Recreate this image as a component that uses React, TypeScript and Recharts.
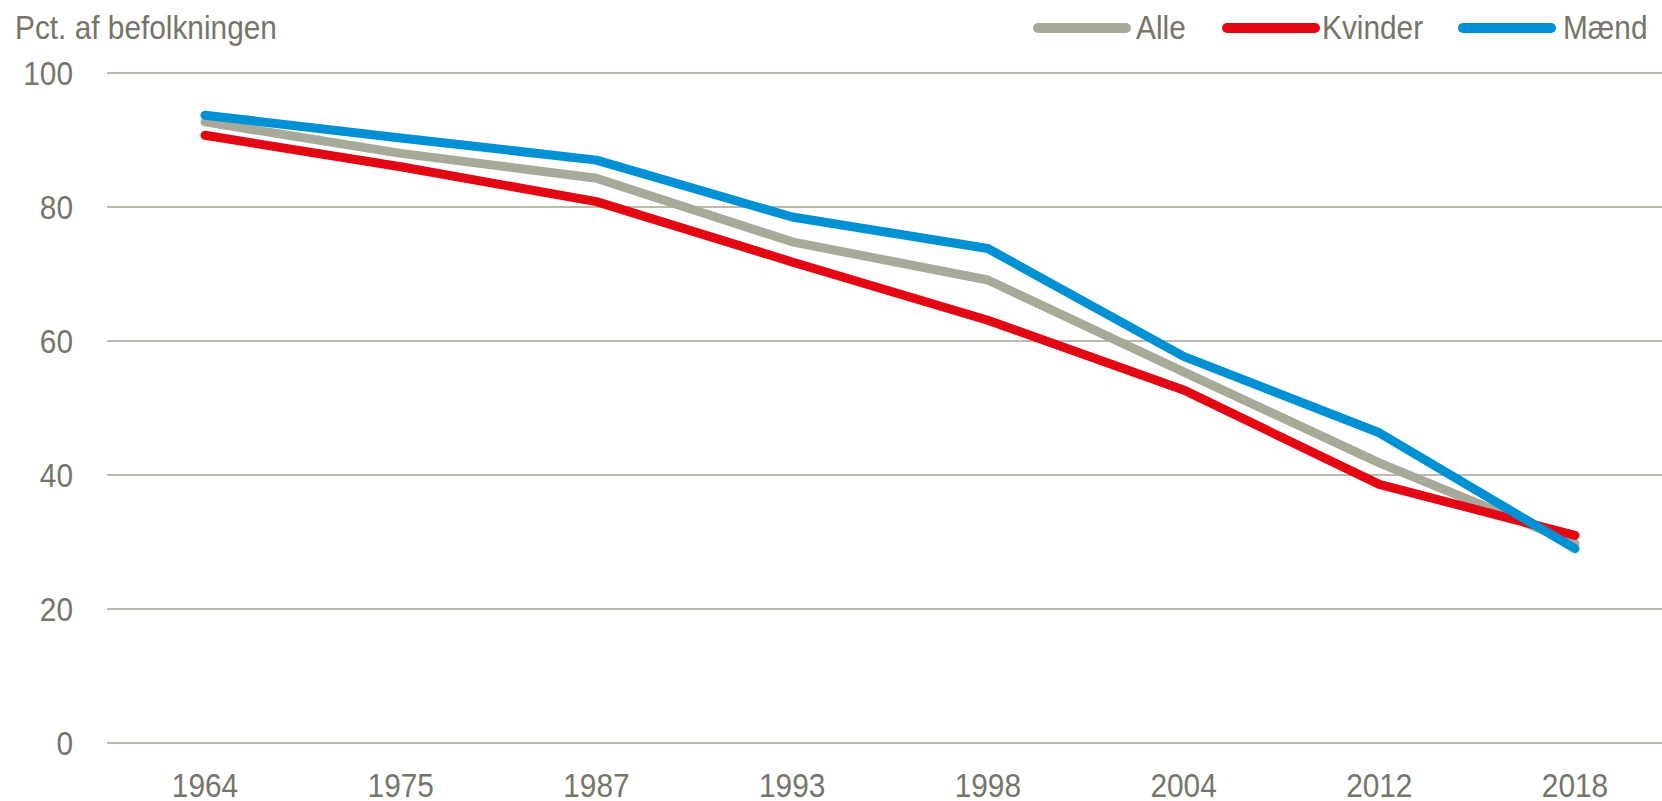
import { CartesianGrid, Line, LineChart, XAxis, YAxis } from 'recharts';

const years = ['1964', '1975', '1987', '1993', '1998', '2004', '2012', '2018'];
const alle = [92.7, 88.0, 84.3, 74.8, 69.1, 55.4, 41.8, 29.8];
const kvinder = [90.7, 86.0, 80.8, 71.8, 63.1, 52.7, 38.6, 31.0];
const maend = [93.7, 90.3, 87.0, 78.5, 73.8, 57.7, 46.3, 29.0];
const yTicks = [0, 20, 40, 60, 80, 100];

const series = [
  { key: 'alle', name: 'Alle', color: '#a9a99a' },
  { key: 'kvinder', name: 'Kvinder', color: '#e30613' },
  { key: 'maend', name: 'Mænd', color: '#0091d5' },
];

const data = years.map((year, i) => ({
  year,
  alle: alle[i],
  kvinder: kvinder[i],
  maend: maend[i],
}));

// no narrow font installed, so squeeze Liberation Sans horizontally
const FONT = '"Liberation Sans", Arial, sans-serif';
const FS = 33.5;
const SX = 0.89;
const TEXT = '#75756a';
const GRID = '#bcbaae';

// legend slot positions (line start, text start) measured off the layout
const legendLine = [1033, 1222, 1458];
const legendText = [1136, 1322, 1563];

function XTick({ x, y, payload }: any) {
  return (
    <g transform={`translate(${x},${y})`}>
      <text
        transform={`scale(${SX},1)`}
        textAnchor="middle"
        dy="0.71em"
        fill={TEXT}
        fontSize={FS}
        fontFamily={FONT}
      >
        {payload.value}
      </text>
    </g>
  );
}

function YTick({ x, y, payload }: any) {
  return (
    <g transform={`translate(${x},${y})`}>
      <text
        transform={`scale(${SX},1)`}
        textAnchor="end"
        dy="0.355em"
        fill={TEXT}
        fontSize={FS}
        fontFamily={FONT}
      >
        {payload.value}
      </text>
    </g>
  );
}

const squeezed: React.CSSProperties = {
  position: 'absolute',
  top: 11,
  fontSize: FS,
  lineHeight: 1,
  color: TEXT,
  whiteSpace: 'nowrap',
  transform: `scaleX(${SX})`,
  transformOrigin: 'left top',
};

export default function App() {
  return (
    <div
      style={{
        position: 'absolute',
        left: 0,
        top: 0,
        width: 1662,
        height: 801,
        overflow: 'hidden',
        background: '#fff',
        fontFamily: FONT,
      }}
    >
      <div style={{ ...squeezed, left: 15 }}>Pct. af befolkningen</div>

      {series.map((s, i) => (
        <div key={s.key}>
          <span
            style={{
              position: 'absolute',
              left: legendLine[i],
              top: 22.5,
              width: 98,
              height: 10,
              borderRadius: 5,
              background: s.color,
            }}
          />
          <span style={{ ...squeezed, left: legendText[i] }}>{s.name}</span>
        </div>
      ))}

      <LineChart
        width={1680}
        height={801}
        data={data}
        margin={{ top: 73, right: 7, bottom: 28, left: 47 }}
      >
        <CartesianGrid stroke={GRID} strokeWidth={2} vertical={false} />
        <XAxis
          dataKey="year"
          axisLine={false}
          tickLine={false}
          tickSize={0}
          tickMargin={30}
          interval={0}
          padding={{ left: 98, right: 98 }}
          tick={<XTick />}
        />
        <YAxis
          width={60}
          domain={[0, 100]}
          ticks={yTicks}
          axisLine={false}
          tickLine={false}
          tickSize={0}
          tickMargin={34}
          tick={<YTick />}
        />
        {series.map((s) => (
          <Line
            key={s.key}
            type="linear"
            dataKey={s.key}
            name={s.name}
            stroke={s.color}
            strokeWidth={9}
            strokeLinecap="round"
            strokeLinejoin="round"
            dot={false}
            activeDot={false}
            isAnimationActive={false}
          />
        ))}
      </LineChart>
    </div>
  );
}
